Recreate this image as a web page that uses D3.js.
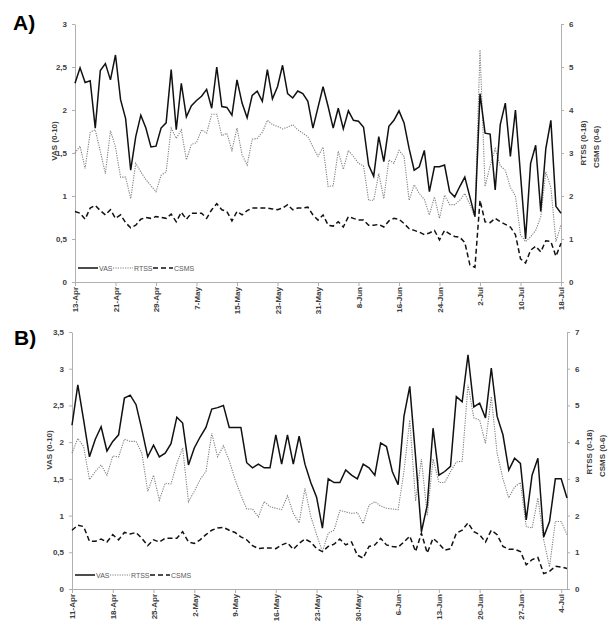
<!DOCTYPE html>
<html>
<head>
<meta charset="utf-8">
<script src="https://cdn.jsdelivr.net/npm/d3@7"></script>
<style>
  body { margin: 0; background: #fff; }
  text { font-family: "Liberation Sans", Arial, sans-serif; }
</style>
</head>
<body>
<div id="chart"></div>
<script>
// ---- data ----
// panel A: daily values from 13-Apr to 18-Jul
const startA = "13-Apr";
const ticksA = ["13-Apr", "21-Apr", "29-Apr", "7-May", "15-May", "23-May", "31-May",
  "8-Jun", "16-Jun", "24-Jun", "2-Jul", "10-Jul", "18-Jul"];
const vasA = [2.31, 2.49, 2.32, 2.34, 1.79, 2.46, 2.54, 2.35, 2.64, 2.12,
  1.90, 1.30, 1.69, 1.94, 1.79, 1.57, 1.58, 1.79, 1.85, 2.47,
  1.77, 2.31, 1.92, 2.05, 2.11, 2.16, 2.24, 2.02, 2.50, 2.04,
  2.03, 1.94, 2.35, 2.08, 1.91, 2.17, 2.22, 2.10, 2.47, 2.13,
  2.27, 2.52, 2.19, 2.14, 2.22, 2.19, 2.10, 1.79, 2.03, 2.27,
  2.04, 1.79, 2.02, 1.78, 1.99, 1.88, 1.87, 1.80, 1.36, 1.23,
  1.69, 1.40, 1.81, 1.88, 1.99, 1.85, 1.55, 1.30, 1.34, 1.53,
  1.05, 1.34, 1.34, 1.36, 1.05, 0.99, 1.11, 1.22, 0.99, 0.76,
  2.19, 1.73, 1.72, 1.07, 1.83, 2.08, 1.46, 2.00, 1.25, 0.50,
  1.38, 1.59, 0.82, 1.55, 1.88, 0.88, 0.80];
const rtssA = [3.00, 3.16, 2.64, 3.48, 3.54, 3.04, 2.52, 3.52, 3.14, 2.44,
  2.44, 1.94, 2.76, 2.56, 2.38, 2.24, 2.10, 2.48, 2.56, 3.58,
  3.34, 3.54, 2.84, 3.20, 3.24, 3.54, 3.46, 3.90, 3.90, 3.40,
  3.46, 3.06, 3.58, 2.96, 2.72, 3.32, 3.34, 3.48, 3.76, 3.66,
  3.62, 3.56, 3.60, 3.66, 3.54, 3.46, 3.38, 3.14, 2.92, 3.14,
  2.22, 2.24, 3.04, 2.62, 3.06, 2.92, 2.76, 2.70, 1.90, 1.90,
  2.52, 1.94, 2.84, 2.76, 3.06, 2.92, 1.90, 2.26, 2.06, 1.92,
  1.56, 1.98, 1.48, 2.02, 1.80, 1.80, 1.90, 2.06, 1.80, 1.52,
  5.40, 2.22, 2.70, 3.10, 2.70, 2.60, 2.20, 2.00, 1.10, 0.94,
  1.05, 1.20, 1.52, 2.56, 2.20, 0.94, 1.33];
const csmsA = [1.64, 1.60, 1.46, 1.72, 1.78, 1.66, 1.56, 1.68, 1.48, 1.56,
  1.38, 1.26, 1.32, 1.46, 1.50, 1.48, 1.52, 1.50, 1.48, 1.58,
  1.40, 1.62, 1.46, 1.60, 1.60, 1.60, 1.48, 1.68, 1.82, 1.68,
  1.64, 1.42, 1.64, 1.56, 1.66, 1.72, 1.72, 1.72, 1.72, 1.70,
  1.68, 1.72, 1.80, 1.68, 1.72, 1.72, 1.74, 1.56, 1.44, 1.56,
  1.32, 1.30, 1.40, 1.28, 1.52, 1.48, 1.44, 1.44, 1.32, 1.32,
  1.34, 1.28, 1.42, 1.48, 1.46, 1.36, 1.24, 1.20, 1.16, 1.10,
  1.14, 1.20, 0.98, 1.20, 1.12, 1.06, 1.04, 0.92, 0.40, 0.34,
  1.90, 1.40, 1.38, 1.48, 1.40, 1.34, 1.28, 1.10, 0.54, 0.44,
  0.74, 0.83, 0.70, 0.96, 0.94, 0.60, 0.90];

// panel B: daily values from 11-Apr to 5-Jul
const startB = "11-Apr";
const ticksB = ["11-Apr", "18-Apr", "25-Apr", "2-May", "9-May", "16-May", "23-May",
  "30-May", "6-Jun", "13-Jun", "20-Jun", "27-Jun", "4-Jul"];
const vasB = [2.23, 2.78, 2.30, 1.80, 2.04, 2.21, 1.88, 2.01, 2.10, 2.60,
  2.64, 2.51, 2.17, 1.80, 1.96, 1.80, 1.85, 1.98, 2.34, 2.26,
  1.69, 1.92, 2.07, 2.20, 2.45, 2.47, 2.50, 2.20, 2.20, 2.20,
  1.72, 1.65, 1.70, 1.65, 1.65, 2.10, 1.70, 2.10, 1.70, 2.08,
  1.70, 1.45, 1.25, 0.83, 1.50, 1.45, 1.45, 1.62, 1.55, 1.50,
  1.70, 1.65, 1.55, 1.99, 1.94, 1.60, 1.42, 2.35, 2.76, 1.80,
  0.78, 1.14, 2.19, 1.55, 1.60, 1.67, 2.62, 2.55, 3.19, 2.48,
  2.53, 2.33, 3.01, 2.35, 2.10, 1.62, 1.78, 1.71, 0.94, 1.55,
  1.78, 0.71, 0.92, 1.50, 1.50, 1.24];
const rtssB = [3.70, 4.10, 3.88, 2.98, 3.20, 3.38, 3.10, 3.62, 3.60, 4.08,
  4.02, 4.02, 3.70, 2.66, 3.10, 2.42, 2.88, 2.86, 3.42, 3.84,
  2.38, 2.66, 2.98, 3.20, 4.24, 3.60, 3.90, 3.50, 2.98, 2.56,
  2.18, 2.18, 1.96, 2.38, 2.24, 2.20, 2.16, 2.54, 2.06, 1.80,
  2.74, 1.98, 1.48, 1.02, 1.52, 1.60, 2.14, 2.10, 2.06, 2.08,
  1.78, 2.28, 2.38, 2.26, 2.20, 2.18, 2.16, 3.20, 4.60, 2.40,
  3.54, 2.00, 3.54, 2.90, 2.90, 3.20, 3.46, 3.48, 5.56, 4.66,
  4.60, 3.96, 5.24, 3.70, 3.00, 2.48, 2.78, 2.90, 1.70, 1.66,
  2.48, 1.34, 0.60, 1.84, 1.84, 1.48];
const csmsB = [1.60, 1.74, 1.70, 1.30, 1.30, 1.36, 1.28, 1.48, 1.34, 1.54,
  1.50, 1.54, 1.38, 1.18, 1.34, 1.28, 1.38, 1.38, 1.38, 1.56,
  1.28, 1.24, 1.34, 1.48, 1.60, 1.66, 1.68, 1.60, 1.54, 1.42,
  1.34, 1.18, 1.10, 1.12, 1.12, 1.10, 1.20, 1.26, 1.08, 1.24,
  1.36, 1.28, 1.10, 1.02, 1.16, 1.22, 1.36, 1.20, 1.28, 0.92,
  0.84, 1.16, 1.20, 1.38, 1.20, 1.16, 1.14, 1.28, 1.44, 1.02,
  1.52, 0.98, 1.38, 1.24, 1.06, 1.10, 1.52, 1.60, 1.80, 1.56,
  1.48, 1.28, 1.60, 1.48, 1.16, 1.08, 1.08, 1.02, 0.66, 0.80,
  0.86, 0.42, 0.48, 0.62, 0.60, 0.56];

const leftTicksA = [0, 0.5, 1, 1.5, 2, 2.5, 3];
const rightTicksA = [0, 1, 2, 3, 4, 5, 6];
const leftTicksB = [0, 0.5, 1, 1.5, 2, 2.5, 3, 3.5];
const rightTicksB = [0, 1, 2, 3, 4, 5, 6, 7];
const seriesNames = ["VAS", "RTSS", "CSMS"];

// ---- drawing ----
const W = 608, H = 644;
const svg = d3.select("#chart").append("svg")
  .attr("width", W)
  .attr("height", H);

const parseDay = d3.timeParse("%d-%b");
const fmtDay = d3.timeFormat("%-d-%b");
const comma = d => String(d).replace(".", ",");

const styles = {
  VAS:  { stroke: "#111", width: 1.5, dash: null },
  RTSS: { stroke: "#808080", width: 1.1, dash: "1.2,1.2" },
  CSMS: { stroke: "#111", width: 1.5, dash: "5,3" }
};

function drawPanel(p) {
  const g = svg.append("g");
  const start = parseDay(p.start);
  const n = p.vas.length;
  const days = d3.range(n).map(i => d3.timeDay.offset(start, i));

  const x = d3.scaleTime()
    .domain([days[0], days[n - 1]])
    .range([p.left, p.right]);
  const yL = d3.scaleLinear().domain([0, d3.max(p.leftTicks)]).range([p.bottom, p.top]);
  const yR = d3.scaleLinear().domain([0, d3.max(p.rightTicks)]).range([p.bottom, p.top]);

  // x axis, labels turned upright
  const xa = g.append("g")
    .attr("transform", `translate(0,${p.bottom})`)
    .call(d3.axisBottom(x)
      .tickValues(p.ticks.map(parseDay))
      .tickFormat(fmtDay)
      .tickSize(4)
      .tickSizeOuter(0));
  xa.selectAll("text")
    .attr("transform", "rotate(-90)")
    .attr("text-anchor", "end")
    .attr("x", -5)
    .attr("y", 0)
    .attr("dy", "0.35em");

  // left axis (decimal comma)
  const la = g.append("g")
    .attr("transform", `translate(${p.left},0)`)
    .call(d3.axisLeft(yL).tickValues(p.leftTicks).tickFormat(comma)
      .tickSize(3).tickPadding(5).tickSizeOuter(0));

  // right axis
  const ra = g.append("g")
    .attr("transform", `translate(${p.right},0)`)
    .call(d3.axisRight(yR).tickValues(p.rightTicks).tickFormat(d3.format("d"))
      .tickSize(3).tickPadding(5).tickSizeOuter(0));

  [xa, la, ra].forEach(a => {
    a.select(".domain").attr("stroke", "#b0b0b0");
    a.selectAll(".tick line").attr("stroke", "#b0b0b0");
    a.selectAll("text")
      .attr("font-size", 8)
      .attr("font-weight", "bold")
      .attr("fill", "#404040");
  });

  // lines
  const lineL = d3.line().x((d, i) => x(days[i])).y(d => yL(d));
  const lineR = d3.line().x((d, i) => x(days[i])).y(d => yR(d));
  const draw = (data, gen, name) => g.append("path")
    .datum(data)
    .attr("fill", "none")
    .attr("stroke", styles[name].stroke)
    .attr("stroke-width", styles[name].width)
    .attr("stroke-dasharray", styles[name].dash)
    .attr("d", gen);
  draw(p.csms, lineR, "CSMS");
  draw(p.rtss, lineR, "RTSS");
  draw(p.vas, lineL, "VAS");

  // axis titles
  const title = (tx, ty, txt) => g.append("text")
    .attr("transform", `translate(${tx},${ty}) rotate(-90)`)
    .attr("text-anchor", "middle")
    .attr("font-size", 8)
    .attr("font-weight", "bold")
    .attr("fill", "#404040")
    .text(txt);
  title(p.titleX, p.titleY, "VAS (0-10)");
  title(p.right + 25, p.titleY + 2, "RTSS (0-18)");
  title(p.right + 38, p.titleY + 6, "CSMS (0-6)");

  // panel label
  g.append("text")
    .attr("x", p.labelX)
    .attr("y", p.labelY)
    .attr("font-size", 21)
    .attr("font-weight", "bold")
    .attr("fill", "#000")
    .text(p.label);

  // legend
  const lg = g.append("g").attr("transform", `translate(${p.left + 3},${p.bottom - 14})`);
  const offs = [0, 35, 75];
  seriesNames.forEach((name, i) => {
    const s = styles[name];
    lg.append("line")
      .attr("x1", offs[i]).attr("x2", offs[i] + 20)
      .attr("y1", 0).attr("y2", 0)
      .attr("stroke", s.stroke)
      .attr("stroke-width", s.width)
      .attr("stroke-dasharray", s.dash);
    lg.append("text")
      .attr("x", offs[i] + 21)
      .attr("y", 2.5)
      .attr("font-size", 7)
      .attr("fill", "#595959")
      .text(name);
  });
}

drawPanel({
  label: "A)", labelX: 13, labelY: 30,
  start: startA, ticks: ticksA,
  vas: vasA, rtss: rtssA, csms: csmsA,
  leftTicks: leftTicksA, rightTicks: rightTicksA,
  left: 75, right: 561, top: 24, bottom: 282, titleX: 57, titleY: 141
});

drawPanel({
  label: "B)", labelX: 14, labelY: 345,
  start: startB, ticks: ticksB,
  vas: vasB, rtss: rtssB, csms: csmsB,
  leftTicks: leftTicksB, rightTicks: rightTicksB,
  left: 72, right: 567, top: 332, bottom: 589, titleX: 52, titleY: 450
});
</script>
</body>
</html>
